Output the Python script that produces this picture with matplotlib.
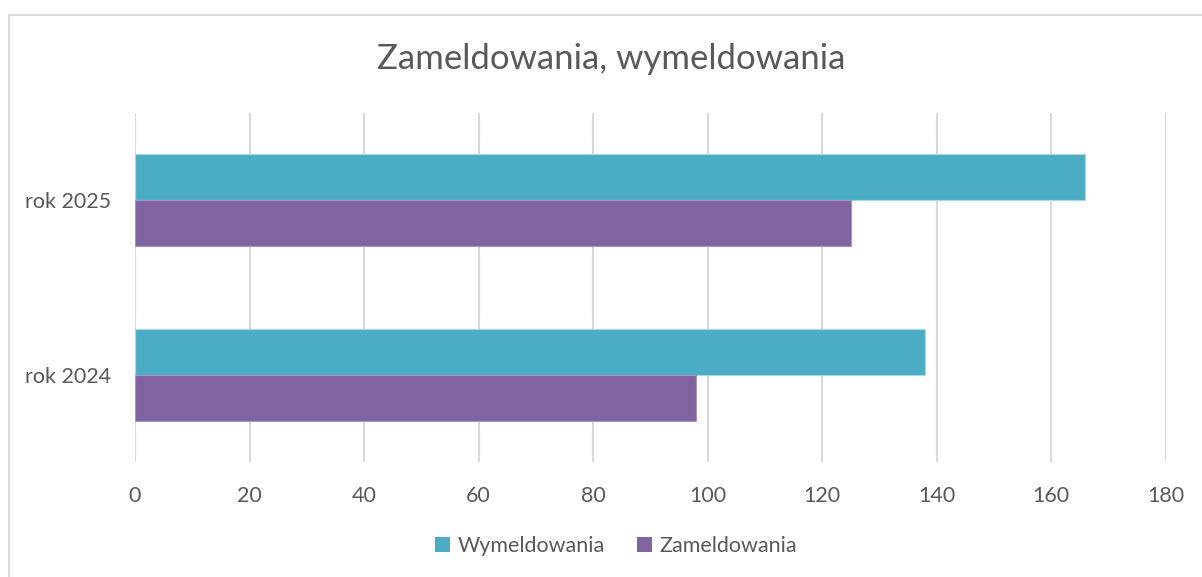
import matplotlib.pyplot as plt
from matplotlib.patches import Patch
from matplotlib.lines import Line2D
import numpy as np

# data
categories = ["rok 2024", "rok 2025"]
wymeldowania = [138, 166]
zameldowania = [98, 125]
x_ticks = [0, 20, 40, 60, 80, 100, 120, 140, 160, 180]

TEAL = "#4BACC6"
PURPLE = "#8064A2"
TEXT = "#595959"
GRID = "#D9D9D9"

plt.rcParams['font.family'] = ['Lato', 'DejaVu Sans']

W, H = 1202, 577
fig = plt.figure(figsize=(W / 100, H / 100), dpi=100)
fig.patch.set_facecolor('white')

# chart area border (only top and left visible in the crop)
fig.add_artist(Line2D([9 / W, 1], [1 - 14.5 / H] * 2, color=GRID, lw=1.3))
fig.add_artist(Line2D([9 / W] * 2, [0, 1 - 14.5 / H], color=GRID, lw=1.3))

ax = fig.add_axes([135 / W, 1 - 462 / H, (1165.5 - 135) / W, (462 - 113) / H])

y = np.arange(len(categories))
h = 0.264
ax.barh(y + h / 2, wymeldowania, height=h, color=TEAL, edgecolor="#A9D8E4",
        linewidth=0.8, label="Wymeldowania", zorder=3)
ax.barh(y - h / 2, zameldowania, height=h, color=PURPLE, edgecolor="#A794C0",
        linewidth=0.8, label="Zameldowania", zorder=3)

ax.set_xlim(0, 180)
ax.set_ylim(-0.5, 1.5)
ax.set_xticks(x_ticks)
ax.set_yticks(y)
ax.set_yticklabels(categories)
ax.grid(axis='x', color=GRID, linewidth=1.5, zorder=0)
for s in ax.spines.values():
    s.set_visible(False)
ax.tick_params(length=0, labelsize=15.5, colors=TEXT)
ax.tick_params(axis='x', pad=17)
ax.tick_params(axis='y', pad=17)

fig.text(611 / W, 1 - 69 / H, "Zameldowania, wymeldowania", ha='center',
         va='baseline', fontsize=25, color=TEXT)

handles = [Patch(facecolor=TEAL, edgecolor='none', label="Wymeldowania"),
           Patch(facecolor=PURPLE, edgecolor='none', label="Zameldowania")]
fig.legend(handles=handles, loc='center', bbox_to_anchor=(616 / W, 1 - 546 / H),
           ncol=2, frameon=False, fontsize=15.5, labelcolor=TEXT,
           handlelength=0.7, handleheight=0.7, handletextpad=0.35,
           columnspacing=1.5)

fig.savefig("out.png", dpi=100)
